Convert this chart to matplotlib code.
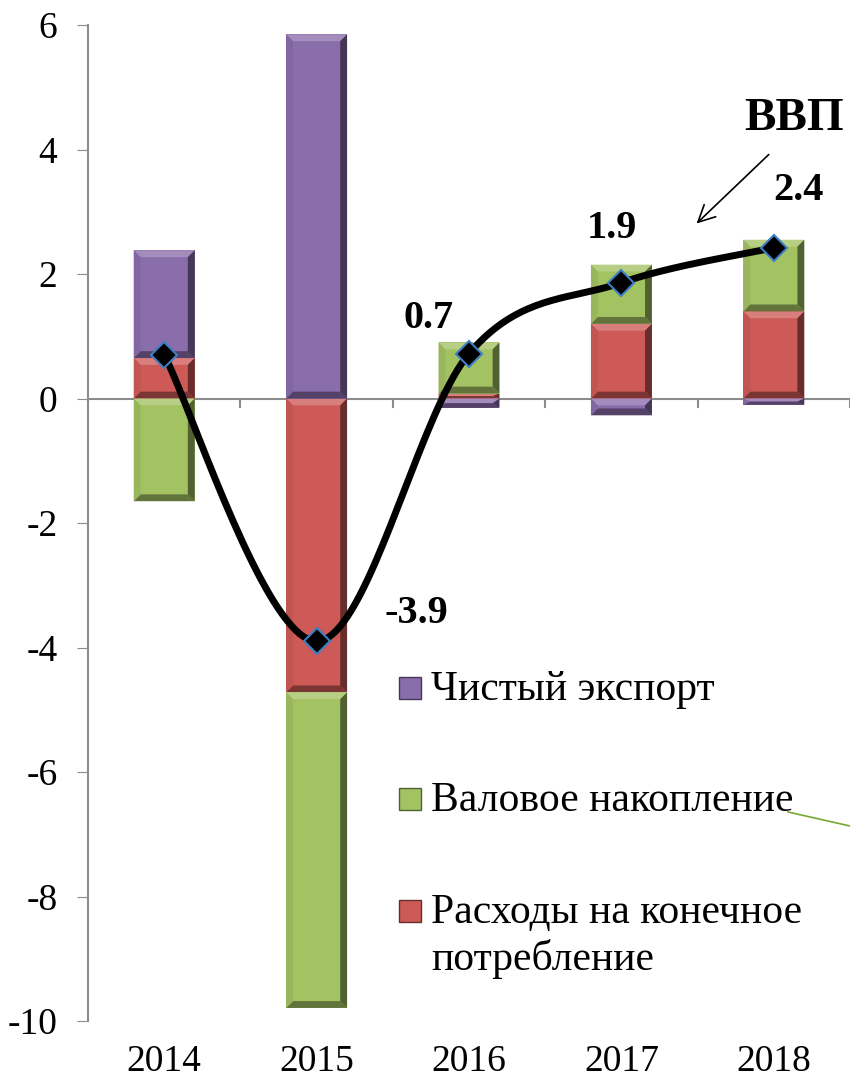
import matplotlib.pyplot as plt
import numpy as np
from matplotlib.patches import Polygon, Rectangle
from matplotlib.lines import Line2D
from matplotlib.colors import to_rgb

# data
years = ["2014", "2015", "2016", "2017", "2018"]
consumption = [0.65, -4.72, 0.08, 1.20, 1.40]   # Расходы на конечное потребление
accumulation = [-1.65, -5.07, 0.82, 0.95, 1.15]  # Валовое накопление
net_export = [1.73, 5.85, -0.15, -0.27, -0.10]   # Чистый экспорт
gdp = [0.70, -3.90, 0.72, 1.86, 2.42]
gdp_labels = ["", "-3.9", "0.7", "1.9", "2.4"]
legend_labels = ["Чистый экспорт", "Валовое накопление",
                 "Расходы на конечное\nпотребление"]

plt.rcParams['font.family'] = ['Liberation Serif', 'DejaVu Serif']
plt.rcParams['axes.unicode_minus'] = False

col_red = "#cd5a57"
col_green = "#a3c262"
col_purple = "#8a6dab"


def shade(c, f):
    r = np.array(to_rgb(c))
    if f >= 0:
        return tuple(r + (1 - r) * f)
    return tuple(r * (1 + f))


def bevel_bar(ax, xc, y0, y1, w, c):
    x0, x1 = xc - w / 2, xc + w / 2
    lo, hi = min(y0, y1), max(y0, y1)
    bx = min(0.045, w / 2)
    by = min(0.11, (hi - lo) / 2)
    ax.add_patch(Rectangle((x0, lo), w, hi - lo, facecolor=c, edgecolor="none", zorder=2))
    parts = [
        ([(x0, hi), (x1, hi), (x1 - bx, hi - by), (x0 + bx, hi - by)], shade(c, 0.22)),
        ([(x0, lo), (x1, lo), (x1 - bx, lo + by), (x0 + bx, lo + by)], shade(c, -0.4)),
        ([(x0, lo), (x0, hi), (x0 + bx, hi - by), (x0 + bx, lo + by)], shade(c, -0.06)),
        ([(x1, lo), (x1, hi), (x1 - bx, hi - by), (x1 - bx, lo + by)], shade(c, -0.5)),
    ]
    for pts, fc in parts:
        ax.add_patch(Polygon(pts, closed=True, facecolor=fc, edgecolor="none", zorder=2))


fig = plt.figure(figsize=(8.5, 10.81), dpi=100)
ax = fig.add_axes([88/850, 1 - 1021/1081, 1 - 88/850, (1021 - 25)/1081])

x = np.arange(len(years))
bar_w = 0.4
pos_bottom = np.zeros(len(years))
neg_bottom = np.zeros(len(years))
for vals, c in [(consumption, col_red), (accumulation, col_green), (net_export, col_purple)]:
    vals = np.array(vals)
    for i, v in enumerate(vals):
        if v >= 0:
            bevel_bar(ax, x[i], pos_bottom[i], pos_bottom[i] + v, bar_w, c)
            pos_bottom[i] += v
        else:
            bevel_bar(ax, x[i], neg_bottom[i], neg_bottom[i] + v, bar_w, c)
            neg_bottom[i] += v

# smoothed GDP line (Bezier smoothing like Excel)
px = np.array(x, dtype=float)
py = np.array(gdp)
P = np.column_stack([px, py])
Pext = np.vstack([P[0], P, P[-1]])
curve = []
t = np.linspace(0, 1, 40)
for i in range(len(P) - 1):
    p0, p1, p2, p3 = Pext[i], Pext[i + 1], Pext[i + 2], Pext[i + 3]
    c1 = p1 + (p2 - p0) / 6
    c2 = p2 - (p3 - p1) / 6
    seg = ((1 - t)[:, None] ** 3 * p1 + 3 * ((1 - t) ** 2 * t)[:, None] * c1
           + 3 * ((1 - t) * t ** 2)[:, None] * c2 + (t ** 3)[:, None] * p2)
    curve.append(seg)
curve = np.vstack(curve)
ax.plot(curve[:, 0], curve[:, 1], color="black", linewidth=5, zorder=3,
        solid_capstyle="round")
ax.plot(px, py, linestyle="none", marker="D", markersize=13,
        markerfacecolor="black", markeredgecolor="#3d7fc4",
        markeredgewidth=1.5, zorder=4)

offsets = [(0, 0), (72, 20), (-29, 25), (-7, 39), (18, 41)]
for xi, yi, lab, off in zip(px, py, gdp_labels, offsets):
    if lab:
        ax.annotate(lab, (xi, yi), xytext=off, textcoords="offset points",
                    ha="center", va="center", fontsize=29, fontweight="bold")

# GDP caption with arrow
ax.annotate("", xy=(3.48, 2.78), xytext=(3.98, 3.95),
            arrowprops=dict(arrowstyle="->", color="black", lw=1.2,
                            mutation_scale=30))
ax.text(4.13, 4.49, "ВВП", ha="center", va="center", fontsize=34,
        fontweight="bold")

# axes styling
ax.set_xlim(-0.5, 4.5)
ax.set_ylim(-10, 6)
ax.set_yticks(range(-10, 7, 2))
ax.set_xticks(x)
ax.set_xticklabels(years)
ax.tick_params(axis="x", length=0, pad=17, labelsize=27)
ax.tick_params(axis="y", length=8, color="#8c8c8c", labelsize=27, pad=14)
for s in ["top", "right", "bottom"]:
    ax.spines[s].set_visible(False)
ax.spines["left"].set_color("#8c8c8c")
ax.spines["left"].set_linewidth(1.5)
ax.axhline(0, color="#8c8c8c", linewidth=1.5, zorder=1)
for b in np.arange(0.5, 4.6, 1.0):
    ax.plot([b, b], [0, -0.14], color="#8c8c8c", linewidth=1.5, zorder=1,
            clip_on=False)

# legend (drawn by hand to match the layout)
H = 1081.0
leg_colors = [col_purple, col_green, col_red]
leg_y = [688, 799, 911]
for lab, c, yc in zip(legend_labels, leg_colors, leg_y):
    fig.add_artist(Rectangle((399/850, 1 - (yc + 11)/H), 22/850, 22/H,
                             facecolor=c, edgecolor=shade(c, -0.5), linewidth=1,
                             transform=fig.transFigure))
    for k, line in enumerate(lab.split("\n")):
        fig.text(431/850, 1 - (yc + 12 + 47 * k)/H, line, ha="left",
                 va="baseline", fontsize=30)

# small leader line fragment
fig.add_artist(Line2D([788/850, 1.0], [1 - 812/H, 1 - 826/H],
                      color="#77a832", linewidth=1.2))

fig.savefig("out.png", dpi=100)
